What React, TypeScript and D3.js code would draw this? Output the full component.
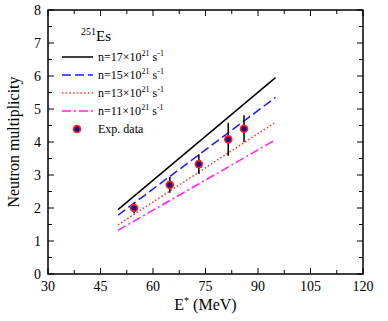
import React from 'react';
import * as d3 from 'd3';

// calculated curves, E* (MeV) vs neutron multiplicity
const energies = [50, 95];
const n17 = [1.95, 5.95];
const n15 = [1.78, 5.35];
const n13 = [1.49, 4.6];
const n11 = [1.32, 4.07];

// experimental points
const expE = [54.6, 64.8, 73.1, 81.5, 86.0];
const expNu = [2.0, 2.7, 3.33, 4.08, 4.4];
const expErr = [0.16, 0.24, 0.3, 0.5, 0.41];

const xTicks = [30, 45, 60, 75, 90, 105, 120];
const yTicks = [0, 1, 2, 3, 4, 5, 6, 7, 8];

const series = [
  { label: '17', values: n17, color: '#000', dash: '' },
  { label: '15', values: n15, color: '#1a1aff', dash: '9,4' },
  { label: '13', values: n13, color: '#ff3030', dash: '1.5,2.2' },
  { label: '11', values: n11, color: '#ff22ee', dash: '9,3,2,3' },
];

const font = "'Liberation Serif', 'Times New Roman', 'DejaVu Serif', serif";

export default function App() {
  const margin = { top: 10, right: 25, bottom: 47, left: 48 };
  const W = 388, H = 321;
  const iw = W - margin.left - margin.right;
  const ih = H - margin.top - margin.bottom;

  const x = d3.scaleLinear().domain([30, 120]).range([0, iw]);
  const y = d3.scaleLinear().domain([0, 8]).range([ih, 0]);

  const line = d3.line<number>()
    .x((d, i) => x(energies[i]))
    .y(d => y(d));

  const xMinor = d3.range(30, 120.01, 7.5);
  const yMinor = d3.range(0, 8.01, 0.5);

  const legY = [47, 65, 83, 101, 119];

  return (
    <svg width={W} height={H} style={{ position: 'absolute', left: 0, top: 0, background: '#fff', fontFamily: font }}>
      <g transform={`translate(${margin.left},${margin.top})`}>
        {/* ticks: bottom/top */}
        {xMinor.map((v, i) => {
          const len = i % 2 === 0 ? 6 : 4;
          return (
            <g key={'xt' + i} stroke="#000" strokeWidth={1}>
              <line x1={x(v)} x2={x(v)} y1={ih} y2={ih - len} />
              <line x1={x(v)} x2={x(v)} y1={0} y2={len} />
            </g>
          );
        })}
        {yMinor.map((v, i) => {
          const len = i % 2 === 0 ? 6 : 4;
          return (
            <g key={'yt' + i} stroke="#000" strokeWidth={1}>
              <line x1={0} x2={len} y1={y(v)} y2={y(v)} />
              <line x1={iw} x2={iw - len} y1={y(v)} y2={y(v)} />
            </g>
          );
        })}
        <rect x={0} y={0} width={iw} height={ih} fill="none" stroke="#000" strokeWidth={1.5} />

        {xTicks.map(v => (
          <text key={'xl' + v} x={x(v)} y={ih + 17} fontSize={14} textAnchor="middle">{v}</text>
        ))}
        {yTicks.map(v => (
          <text key={'yl' + v} x={-7} y={y(v) + 4.5} fontSize={14} textAnchor="end">{v}</text>
        ))}

        {/* curves */}
        {series.map(s => (
          <path key={s.label} d={line(s.values) || ''} fill="none" stroke={s.color}
            strokeWidth={1.5} strokeDasharray={s.dash} />
        ))}

        {/* experimental data */}
        {expE.map((e, i) => (
          <line key={'eb' + i} x1={x(e)} x2={x(e)} y1={y(expNu[i] - expErr[i])} y2={y(expNu[i] + expErr[i])}
            stroke="#000" strokeWidth={1.5} />
        ))}
        {expE.map((e, i) => (
          <g key={'ep' + i}>
            <circle cx={x(e)} cy={y(expNu[i])} r={4.3} fill="#ff2020" />
            <circle cx={x(e)} cy={y(expNu[i])} r={2.6} fill="#10108a" />
          </g>
        ))}

        {/* legend */}
        <text x={33} y={31} fontSize={15}>
          <tspan fontSize={10} dy={-6}>251</tspan>
          <tspan dy={6}>Es</tspan>
        </text>
        {series.map((s, i) => (
          <g key={'lg' + s.label}>
            <line x1={14} x2={45} y1={legY[i]} y2={legY[i]} stroke={s.color} strokeWidth={1.5}
              strokeDasharray={s.dash} />
            <text x={50} y={legY[i] + 4} fontSize={12}>
              n={s.label}×10<tspan fontSize={8} dy={-5}>21</tspan>
              <tspan dy={5}> s</tspan><tspan fontSize={8} dy={-5}>-1</tspan>
            </text>
          </g>
        ))}
        <circle cx={29} cy={legY[4]} r={4.3} fill="#ff2020" />
        <circle cx={29} cy={legY[4]} r={2.6} fill="#10108a" />
        <text x={50} y={legY[4] + 4} fontSize={12}>Exp. data</text>

        {/* axis titles */}
        <text x={x(75)} y={ih + 36} fontSize={16} textAnchor="middle">
          E<tspan fontSize={10} dy={-6}>*</tspan><tspan dy={6}> (MeV)</tspan>
        </text>
        <text transform={`translate(${-29},${ih / 2}) rotate(-90)`} fontSize={16} textAnchor="middle">
          Neutron multiplicity
        </text>
      </g>
    </svg>
  );
}
